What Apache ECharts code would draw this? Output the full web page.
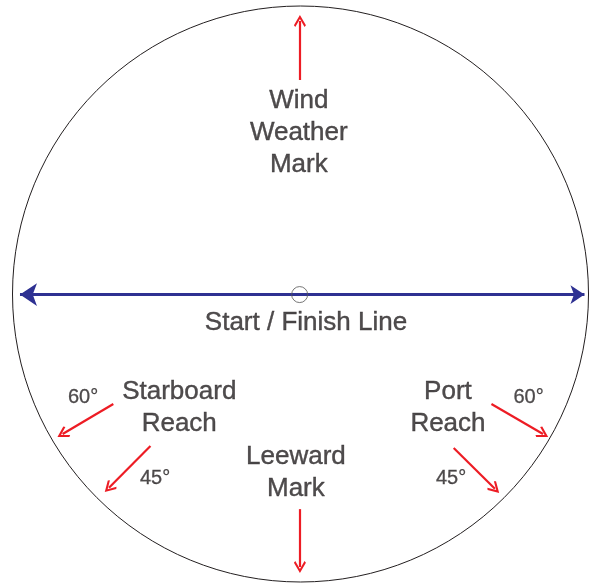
<!DOCTYPE html>
<html>
<head>
<meta charset="utf-8">
<script src="https://cdn.jsdelivr.net/npm/echarts@6/dist/echarts.min.js"></script>
<style>
html,body{margin:0;padding:0;background:#fff;}
#chart{width:593px;height:585px;}
</style>
</head>
<body>
<div id="chart"></div>
<script>
// Course diagram values, in course units (circle radius = 100, centre = 0,0)
const startLineFrom = [-97.4, -0.2];
const startLineTo = [98.6, -0.2];

const markArrowNames = ['Wind Weather Mark', 'Leeward Mark', 'Starboard 60', 'Starboard 45', 'Port 60', 'Port 45'];
const markArrowFrom = [[-0.2, 74.3], [-0.2, -74.7], [-65.0, -38.2], [-52.1, -52.8], [66.3, -38.2], [53.2, -53.5]];
const markArrowTo = [[-0.2, 94.8], [-0.2, -94.8], [-82.6, -48.6], [-66.5, -67.3], [84.2, -48.6], [67.5, -67.6]];

const centreMark = [-0.3, -0.2];

const courseLabels = ['Wind\nWeather\nMark', 'Start / Finish Line', 'Starboard\nReach', 'Port\nReach', 'Leeward\nMark'];
const courseLabelX = [-0.6, 1.9, -42.1, 51.2, -1.6];
const courseLabelY = [56.0, -10.1, -39.6, -39.6, -62.2];

const angleLabels = ['60°', '45°', '60°', '45°'];
const angleLabelX = [-75.5, -50.5, 79.2, 52.3];
const angleLabelY = [-36.1, -63.9, -36.1, -63.9];

const chart = echarts.init(document.getElementById('chart'), null, {renderer: 'canvas'});

const textColor = '#231f20';
const fontFamily = "'Liberation Sans', Arial, Helvetica, sans-serif";
const chevron = 'path://M7,0 L14,10 L12.4,11.6 L7,4 L1.6,11.6 L0,10 Z';

const option = {
  animation: false,
  backgroundColor: '#ffffff',
  grid: {left: 12.5, top: 6, width: 576, height: 576, containLabel: false},
  xAxis: {type: 'value', min: -100, max: 100, show: false},
  yAxis: {type: 'value', min: -100, max: 100, show: false},
  polar: {center: [300.5, 294], radius: 288},
  angleAxis: {
    type: 'value', min: 0, max: 360,
    axisLine: {show: true, lineStyle: {color: '#231f20', width: 1}},
    axisTick: {show: false}, axisLabel: {show: false}, splitLine: {show: false}
  },
  radiusAxis: {type: 'value', min: 0, max: 100, show: false},
  series: [
    {
      type: 'lines',
      coordinateSystem: 'cartesian2d',
      symbol: ['arrow', 'arrow'],
      symbolSize: [17, 14],
      lineStyle: {color: '#2e3192', width: 3, opacity: 1},
      data: [{coords: [startLineFrom, startLineTo]}],
      z: 3
    },
    {
      type: 'lines',
      coordinateSystem: 'cartesian2d',
      symbol: ['none', chevron],
      symbolSize: [14, 12],
      lineStyle: {color: '#ed1c24', width: 2.2, opacity: 1},
      data: markArrowNames.map((n, i) => ({name: n, coords: [markArrowFrom[i], markArrowTo[i]]})),
      z: 3
    },
    {
      type: 'scatter',
      coordinateSystem: 'cartesian2d',
      symbol: 'circle',
      symbolSize: 16,
      itemStyle: {color: 'rgba(0,0,0,0)', borderColor: '#555', borderWidth: 1},
      data: [centreMark],
      z: 4
    },
    {
      type: 'scatter',
      coordinateSystem: 'cartesian2d',
      symbolSize: 1,
      itemStyle: {color: 'rgba(255,255,255,0)'},
      label: {
        show: true, position: 'inside', formatter: p => p.data.text,
        color: textColor, fontFamily: fontFamily,
        textBorderColor: textColor, textBorderWidth: 0.4,
        fontSize: 26, lineHeight: 32, align: 'center', verticalAlign: 'middle'
      },
      data: courseLabels.map((t, i) => ({value: [courseLabelX[i], courseLabelY[i]], text: t})),
      z: 5
    },
    {
      type: 'scatter',
      coordinateSystem: 'cartesian2d',
      symbolSize: 1,
      itemStyle: {color: 'rgba(255,255,255,0)'},
      label: {
        show: true, position: 'inside', formatter: p => p.data.text,
        color: textColor, fontFamily: fontFamily,
        textBorderColor: textColor, textBorderWidth: 0.3,
        fontSize: 20, align: 'center', verticalAlign: 'middle'
      },
      data: angleLabels.map((t, i) => ({value: [angleLabelX[i], angleLabelY[i]], text: t})),
      z: 5
    }
  ]
};
chart.setOption(option);
</script>
</body>
</html>
